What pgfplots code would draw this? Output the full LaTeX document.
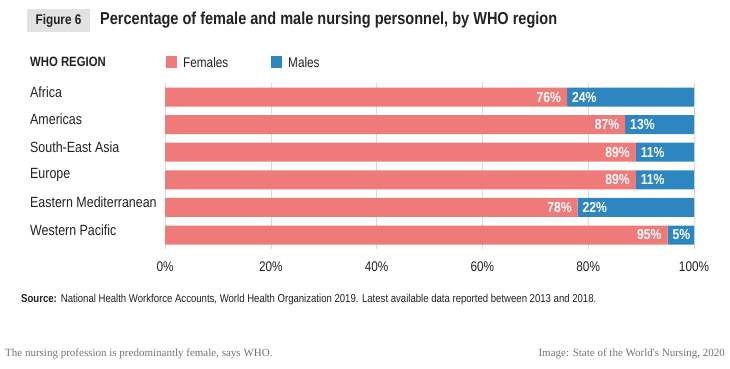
\documentclass[border=0pt]{standalone}
\usepackage{pgfplots}
\pgfplotsset{compat=1.18}
\usepackage{fontspec}
\setmainfont{Liberation Sans}[FakeStretch=0.84]
\newfontfamily\capfont{Liberation Serif}
\definecolor{fem}{RGB}{239,122,122}
\definecolor{mal}{RGB}{45,134,192}
\definecolor{txt}{RGB}{34,34,34}
\definecolor{figbox}{RGB}{226,226,226}
\pgfplotsset{chartbox/.style={
  at={(165pt,119.2pt)}, anchor=south west,
  scale only axis, width=529pt, height=165.6pt,
  xmin=0, xmax=100, ymin=-0.5, ymax=5.5, y dir=reverse,
}}
\begin{document}
\begin{tikzpicture}
\path[use as bounding box] (0pt,0pt) rectangle (730pt,368pt);
% header
\fill[figbox] (27pt,336pt) rectangle (90pt,359pt);
\node[font=\fontsize{14}{16}\selectfont\bfseries, text=txt, inner sep=0pt] at (58.5pt,347.5pt) {Figure 6};
\node[font=\fontsize{17.3}{19}\selectfont\bfseries, text=txt, anchor=west, inner sep=0pt] at (100pt,347.5pt) {Percentage of female and male nursing personnel, by WHO region};
% legend row
\node[font=\fontsize{13.5}{15}\selectfont\bfseries, text=txt, anchor=west, inner sep=0pt] at (30pt,306pt) {WHO REGION};
\fill[fem] (166pt,300pt) rectangle (177pt,312pt);
\node[font=\fontsize{14}{16}\selectfont, text=txt, anchor=west, inner sep=0pt] at (183pt,306pt) {Females};
\fill[mal] (271pt,300pt) rectangle (282pt,312pt);
\node[font=\fontsize{14}{16}\selectfont, text=txt, anchor=west, inner sep=0pt] at (288pt,306pt) {Males};
\begin{axis}[chartbox,
  xbar stacked, bar width=19pt,
  axis line style={draw=none},
  xtick={0,20,40,60,80,100},
  xticklabels={0\%,20\%,40\%,60\%,80\%,100\%},
  xticklabel style={font=\fontsize{14}{16}\selectfont, text=txt, yshift=-9pt},
  xmajorgrids, grid style={gray!30, line width=0.6pt},
  major tick length=0pt,
  ytick={0,1,2,3,4,5},
  yticklabels={Africa,Americas,South-East Asia,Europe,Eastern Mediterranean,Western Pacific},
  yticklabel style={anchor=west, inner sep=0pt, xshift=-135pt, yshift=5pt, font=\fontsize{14.8}{16}\selectfont, text=txt},
  /pgf/number format/assume math mode=true,
]
\addplot[fill=fem, draw=none] table[x=f, y=y] {
y f
0 76
1 87
2 89
3 89
4 78
5 95
};
\addplot[fill=mal, draw=none] table[x=m, y=y] {
y m
0 24
1 13
2 11
3 11
4 22
5 5
};
\end{axis}
\begin{axis}[chartbox, hide axis]
\addplot[draw=none, mark=none,
  point meta=explicit symbolic,
  visualization depends on={value \thisrow{m} \as \malev},
  nodes near coords={\makebox[0pt][r]{\pgfplotspointmeta\%\hspace{6pt}}\makebox[0pt][l]{\hspace{5pt}\malev\%}},
  every node near coord/.append style={anchor=center, inner sep=0pt, text=white, font=\fontsize{14.5}{16}\selectfont\bfseries}
] table[x=f, y=y, meta=f] {
y f m
0 76 24
1 87 13
2 89 11
3 89 11
4 78 22
5 95 5
};
\end{axis}
% source
\node[font=\fontsize{11.4}{13}\selectfont, text=txt, anchor=west, inner sep=0pt] at (21pt,68pt) {\textbf{Source:}\hspace{4pt}National Health Workforce Accounts, World Health Organization 2019. Latest available data reported between 2013 and 2018.};
% caption
\node[font=\capfont\fontsize{11}{13}\selectfont, text=gray!90!black, anchor=west, inner sep=0pt] at (5pt,14pt) {The nursing profession is predominantly female, says WHO.};
\node[font=\capfont\fontsize{11}{13}\selectfont, text=gray!90!black, anchor=east, inner sep=0pt] at (725pt,14pt) {Image: State of the World's Nursing, 2020};
\end{tikzpicture}
\end{document}
